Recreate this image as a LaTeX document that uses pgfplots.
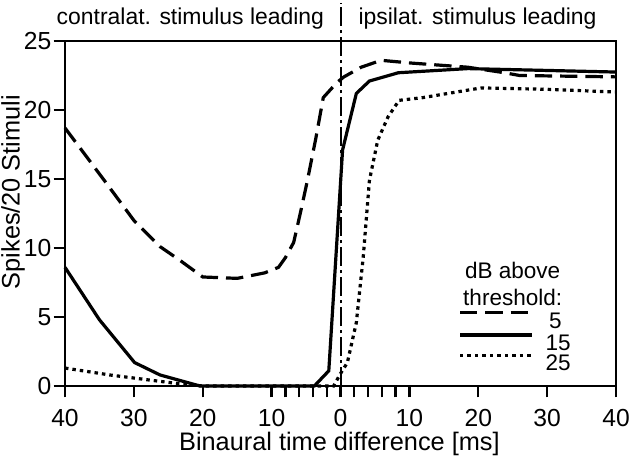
\documentclass[border=0pt]{standalone}
\usepackage{pgfplots}
\pgfplotsset{compat=1.18}
\usepackage{fontspec}
\setmainfont{Liberation Sans}
\begin{document}
\begin{tikzpicture}
\useasboundingbox (-48.75pt,-52.5pt) rectangle (423.75pt,289.5pt);
\begin{axis}[
 at={(0,0)}, anchor=south west,
 scale only axis, width=413.25pt, height=258.75pt,
 xmin=-40, xmax=40, ymin=0, ymax=25,
 xtick={-40,-30,...,40}, xticklabels={40,30,20,10,0,10,20,30,40},
 minor xtick={-8,-6,-4,-2,2,4,6,8},
 ytick={0,5,...,25},
 xtick pos=left, ytick pos=left,
 tick align=outside,
 major tick length=8.5pt, minor tick length=8.5pt,
 every tick/.style={black, line width=1.8pt},
 minor tick style={black, line width=1.8pt},
 axis line style={line width=2.2pt},
 tick label style={font=\fontsize{18.5}{22}\selectfont, inner sep=1.5pt},
 xticklabel style={yshift=-7pt},
 /pgf/number format/assume math mode=true,
 xlabel={Binaural time difference [ms]},
 ylabel={Spikes/20 Stimuli},
 label style={font=\fontsize{19}{22}\selectfont},
 xlabel style={at={(axis description cs:0.498,-0.1855)}, anchor=base},
 ylabel style={at={(axis description cs:-0.0944,0.562)}, anchor=center},
 clip=false,
]
\addplot[black, line width=1.5pt, dash pattern=on 14pt off 3pt on 2.5pt off 3pt] coordinates {(0,0) (0,27.75)};
% 5 dB (dashed)
\addplot[black, line width=2.4pt, dash pattern=on 13pt off 6pt] coordinates {
(-40,18.7) (-34.6,15.1) (-30,12.0) (-26.2,10.1) (-23.3,9.1) (-20,7.9) (-15,7.8) (-11,8.2) (-9,8.6) (-8,9.3) (-6.8,10.4) (-5.8,12.6) (-4.8,14.9) (-3.6,17.9) (-2.5,20.9) (-0.5,22.0) (0.5,22.4) (3,23.1) (5.9,23.6) (10.3,23.4) (18.5,23.1) (23.8,22.7) (26,22.5) (40,22.4)};
% 15 dB (solid)
\addplot[black, line width=2.4pt] coordinates {
(-40,8.6) (-35,4.8) (-29.9,1.7) (-26.2,0.8) (-20.4,0) (-3.8,0) (-1.7,1.1) (0.3,17.1) (2.3,21.2) (4.2,22.1) (8.4,22.7) (18.5,23.0) (40,22.75)};
% 25 dB (dotted)
\addplot[black, line width=2.4pt, dash pattern=on 2.6pt off 3pt] coordinates {
(-40,1.3) (-33.5,0.8) (-28,0.45) (-24,0.2) (-20,0) (-1,0) (0,0.9) (1,1.7) (2.3,4.6) (3.3,9.35) (4.2,14.9) (5.4,17.8) (6.9,19.5) (8.5,20.7) (12,20.9) (20.4,21.6) (30,21.5) (40,21.3)};
% header texts
\node[anchor=base, font=\fontsize{17.2}{20}\selectfont] at (axis cs:-21.8,26.16) {contralat. stimulus leading};
\node[anchor=base, font=\fontsize{17.2}{20}\selectfont] at (axis cs:19.9,26.16) {ipsilat. stimulus leading};
% legend
\node[font=\fontsize{16.9}{20}\selectfont] at (axis cs:25.0,8.4) {dB above};
\node[font=\fontsize{16.9}{20}\selectfont] at (axis cs:25.0,6.45) {threshold:};
\draw[black, line width=2.4pt, dash pattern=on 13pt off 6pt] (axis cs:17.35,5.3) -- (axis cs:27.8,5.3);
\draw[black, line width=2.4pt] (axis cs:17.35,3.7) -- (axis cs:27.8,3.7);
\draw[black, line width=2.4pt, dash pattern=on 2.6pt off 3pt] (axis cs:17.35,2.2) -- (axis cs:27.8,2.2);
\node[font=\fontsize{16.9}{20}\selectfont] at (axis cs:31.2,4.75) {5};
\node[font=\fontsize{16.9}{20}\selectfont] at (axis cs:31.6,3.15) {15};
\node[font=\fontsize{16.9}{20}\selectfont] at (axis cs:31.6,1.65) {25};
\end{axis}
\end{tikzpicture}
\end{document}
